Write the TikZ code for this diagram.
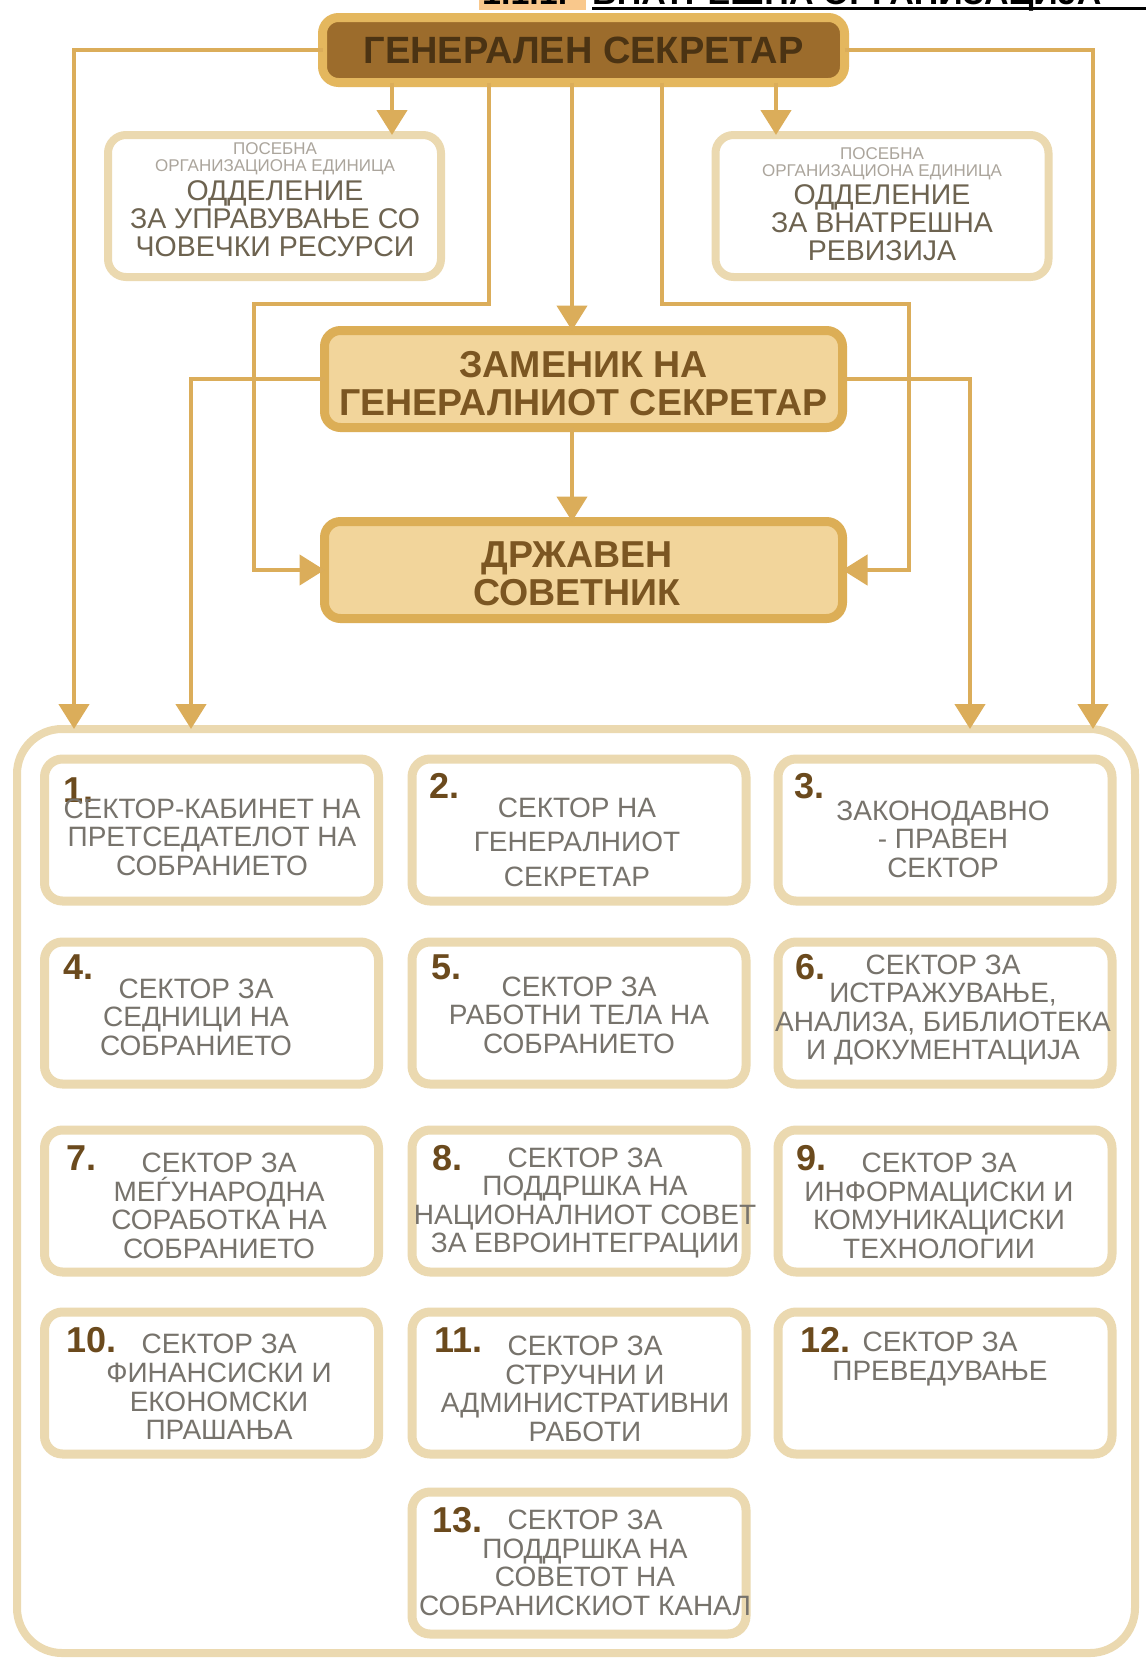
\documentclass[tikz,border=0pt]{standalone}
\usepackage{fontspec}
\setmainfont{Liberation Sans}
\usetikzlibrary{arrows.meta,calc}
\definecolor{lineC}{HTML}{DBAD5A}
\definecolor{gsFill}{HTML}{9C6C2C}
\definecolor{gsBord}{HTML}{E4B75E}
\definecolor{gsText}{HTML}{4B3313}
\definecolor{zFill}{HTML}{F2D59B}
\definecolor{zBord}{HTML}{DCAE56}
\definecolor{zText}{HTML}{7B5622}
\definecolor{boxBord}{HTML}{EBD9B0}
\definecolor{secText}{HTML}{77736C}
\definecolor{numText}{HTML}{6B4A1D}
\definecolor{smallText}{HTML}{ABA59C}
\definecolor{unitText}{HTML}{6D6350}
\definecolor{hlOrange}{HTML}{F9C88C}
\newcommand{\myfs}[2]{\fontsize{#1}{#2}\selectfont}
\tikzset{
  conn/.style={draw=lineC, line width=4.5pt},
  arr/.style={conn, -{Triangle[width=30pt,length=25pt]}},
  gsbox/.style={draw=gsBord, fill=gsFill, line width=9pt, rounded corners=16pt,
    minimum width=522pt, minimum height=65pt, inner sep=0pt, outer sep=0pt,
    text=gsText, font=\bfseries\myfs{38}{40}},
  zbox/.style={draw=zBord, fill=zFill, line width=9pt, rounded corners=16pt,
    minimum width=518pt, minimum height=97pt, inner sep=0pt, outer sep=0pt},
  unitbox/.style={draw=boxBord, fill=white, line width=8pt, rounded corners=18pt,
    minimum width=333pt, minimum height=142pt, inner sep=0pt, outer sep=0pt},
  secbox/.style={draw=boxBord, fill=white, line width=9pt, rounded corners=18pt,
    minimum width=334pt, minimum height=142pt, inner sep=0pt, outer sep=0pt},
  contbox/.style={draw=boxBord, line width=8pt, rounded corners=45pt,
    minimum width=1118pt, minimum height=924pt, inner sep=0pt, outer sep=0pt},
  numtxt/.style={anchor=west, inner sep=0pt, text=numText, font=\bfseries\myfs{36}{38}},
  sectxt/.style={align=center, inner sep=0pt, text=secText, font=\myfs{28}{28.6}},
  ztxt/.style={align=center, inner sep=0pt, text=zText, font=\bfseries\myfs{37.5}{38}},
  smalltxt/.style={align=center, inner sep=0pt, text=smallText, font=\myfs{17}{17}},
  unittxt/.style={align=center, inner sep=0pt, text=unitText, font=\myfs{28.5}{28}}
}
\begin{document}
\begin{tikzpicture}[x=1pt,y=-1pt]
\useasboundingbox (0,0) rectangle (1146,1660);
\fill[white] (0,0) rectangle (1146,1660);

% cut-off heading at the top
\begin{scope}
\clip (0,0) rectangle (1146,1660);
\fill[hlOrange] (479,-2) rectangle (586,10);
\node[anchor=base west, inner sep=0pt, font=\bfseries\myfs{34}{36}] (hdrnum) at (482,4) {1.1.1.};
\node[anchor=base west, inner sep=0pt, font=\bfseries\myfs{34}{36}] (hdr) at (592,4) {ВНАТРЕШНА ОРГАНИЗАЦИЈА};
\draw[black, line width=3pt] (hdr.base west) ++(0,4) -- (1146,8);
\end{scope}

% column / row helper coordinates
\coordinate (xL) at (74,0);
\coordinate (xR) at (1093,0);
\coordinate (xHR) at (392,0);
\coordinate (xAU) at (776,0);
\coordinate (xA) at (489,0);
\coordinate (xM) at (572,0);
\coordinate (xB) at (662,0);
\coordinate (xLL) at (254,0);
\coordinate (xRR) at (909,0);
\coordinate (xZL) at (191,0);
\coordinate (xZR) at (970,0);
\coordinate (yBar) at (0,304);

% container
\node[contbox] (cont) at (576,1191) {};

% top part
\node[gsbox] (gs) at (583.5,50) {ГЕНЕРАЛЕН СЕКРЕТАР};
\node[unitbox] (hr) at (274.5,206) {};
\node[smalltxt] (hrs) at (275,158.5) {ПОСЕБНА\\ОРГАНИЗАЦИОНА ЕДИНИЦА};
\node[unittxt] (hrt) at (275,219) {ОДДЕЛЕНИЕ\\ЗА УПРАВУВАЊЕ СО\\ЧОВЕЧКИ РЕСУРСИ};
\node[unitbox] (au) at (882,206) {};
\node[smalltxt] (aus) at (882,163.5) {ПОСЕБНА\\ОРГАНИЗАЦИОНА ЕДИНИЦА};
\node[unittxt] (aut) at (882,223) {ОДДЕЛЕНИЕ\\ЗА ВНАТРЕШНА\\РЕВИЗИЈА};
\node[zbox] (zgs) at (583.5,379) {};
\node[ztxt] (zgst) at (583.5,384) {ЗАМЕНИК НА\\ГЕНЕРАЛНИОТ СЕКРЕТАР};
\node[zbox] (ds) at (583.5,570) {};
\node[ztxt] (dst) at (577,573.5) {ДРЖАВЕН\\СОВЕТНИК};

% sectors
\node[secbox] (s1) at (211.5,830) {};
\node[secbox] (s2) at (579,830) {};
\node[secbox] (s3) at (945,830) {};
\node[secbox] (s4) at (211.5,1013) {};
\node[secbox] (s5) at (579,1013) {};
\node[secbox] (s6) at (945,1013) {};
\node[secbox] (s7) at (211.5,1201) {};
\node[secbox] (s8) at (579,1201) {};
\node[secbox] (s9) at (945,1201) {};
\node[secbox] (s10) at (211.5,1383) {};
\node[secbox] (s11) at (579,1383) {};
\node[secbox] (s12) at (945,1383) {};
\node[secbox] (s13) at (579,1563) {};

\node[numtxt] (n1) at (63,790) {1.};
\node[sectxt] (t1) at (212,837) {СЕКТОР-КАБИНЕТ НА\\ПРЕТСЕДАТЕЛОТ НА\\СОБРАНИЕТО};
\node[numtxt] (n2) at (429,786) {2.};
\node[sectxt, font=\myfs{28}{34.4}] (t2) at (577,842) {СЕКТОР НА\\ГЕНЕРАЛНИОТ\\СЕКРЕТАР};
\node[numtxt] (n3) at (794,786) {3.};
\node[sectxt] (t3) at (943,839) {ЗАКОНОДАВНО\\- ПРАВЕН\\СЕКТОР};

\node[numtxt] (n4) at (63,967) {4.};
\node[sectxt] (t4) at (196,1017) {СЕКТОР ЗА\\СЕДНИЦИ НА\\СОБРАНИЕТО};
\node[numtxt] (n5) at (431,967) {5.};
\node[sectxt] (t5) at (579,1015) {СЕКТОР ЗА\\РАБОТНИ ТЕЛА НА\\СОБРАНИЕТО};
\node[numtxt] (n6) at (795,967) {6.};
\node[sectxt] (t6) at (943,1010) {СЕКТОР ЗА\\ИСТРАЖУВАЊЕ,\\АНАЛИЗА, БИБЛИОТЕКА\\И ДОКУМЕНТАЦИЈА};

\node[numtxt] (n7) at (66,1158) {7.};
\node[sectxt] (t7) at (219,1206) {СЕКТОР ЗА\\МЕЃУНАРОДНА\\СОРАБОТКА НА\\СОБРАНИЕТО};
\node[numtxt] (n8) at (432,1158) {8.};
\node[sectxt] (t8) at (585,1203) {СЕКТОР ЗА\\ПОДДРШКА НА\\НАЦИОНАЛНИОТ СОВЕТ\\ЗА ЕВРОИНТЕГРАЦИИ};
\node[numtxt] (n9) at (796,1158) {9.};
\node[sectxt] (t9) at (939,1206) {СЕКТОР ЗА\\ИНФОРМАЦИСКИ И\\КОМУНИКАЦИСКИ\\ТЕХНОЛОГИИ};

\node[numtxt] (n10) at (66,1340) {10.};
\node[sectxt] (t10) at (219,1387) {СЕКТОР ЗА\\ФИНАНСИСКИ И\\ЕКОНОМСКИ\\ПРАШАЊА};
\node[numtxt] (n11) at (434,1340) {11.};
\node[sectxt] (t11) at (585,1389) {СЕКТОР ЗА\\СТРУЧНИ И\\АДМИНИСТРАТИВНИ\\РАБОТИ};
\node[numtxt] (n12) at (800,1340) {12.};
\node[sectxt] (t12) at (940,1359) {СЕКТОР ЗА\\ПРЕВЕДУВАЊЕ};

\node[numtxt] (n13) at (432,1520) {13.};
\node[sectxt] (t13) at (585,1563) {СЕКТОР ЗА\\ПОДДРШКА НА\\СОВЕТОТ НА\\СОБРАНИСКИОТ КАНАЛ};

% connectors
\draw[arr] (gs.west) -| (xL |- cont.north);
\draw[arr] (gs.east) -| (xR |- cont.north);
\draw[arr] (gs.south -| xHR) -- (hr.north -| xHR);
\draw[arr] (gs.south -| xAU) -- (au.north -| xAU);
\draw[arr] (gs.south -| xM) -- (zgs.north -| xM);
\draw[arr] (gs.south -| xA) |- (yBar -| xLL) |- (ds.west);
\draw[arr] (gs.south -| xB) |- (yBar -| xRR) |- (ds.east);
\draw[arr] (zgs.west) -| (xZL |- cont.north);
\draw[arr] (zgs.east) -| (xZR |- cont.north);
\draw[arr] (zgs.south -| xM) -- (ds.north -| xM);
\end{tikzpicture}
\end{document}
